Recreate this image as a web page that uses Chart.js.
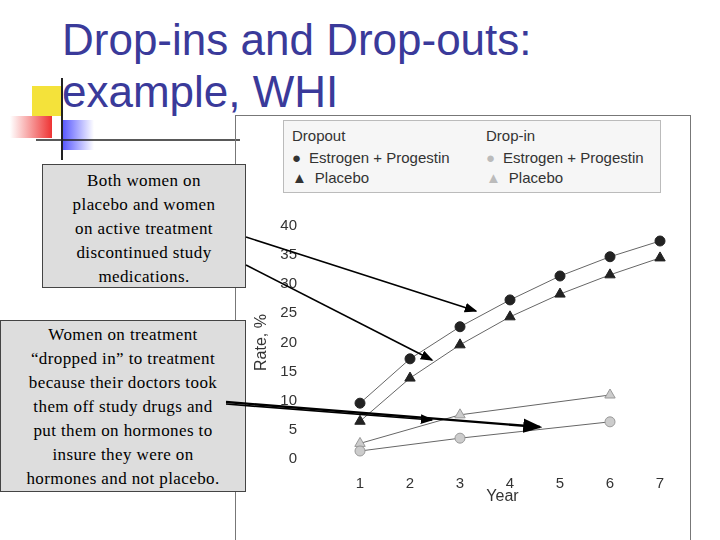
<!DOCTYPE html>
<html>
<head>
<meta charset="utf-8">
<script src="https://cdn.jsdelivr.net/npm/chart.js@4"></script>
<style>
body{margin:0;width:720px;height:540px;position:relative;background:#fff;overflow:hidden;font-family:"Liberation Sans",Arial,sans-serif}
.abs{position:absolute}
#title{left:62px;top:14px;font-size:44px;line-height:52px;color:#3a3a9a}
.box{background:#ddd;border:1px solid #444;font-family:"Liberation Serif","Times New Roman",serif;font-size:17px;line-height:24px;letter-spacing:0.4px;text-align:center;box-sizing:border-box;color:#000;white-space:nowrap}
#panel{left:235px;top:115px;width:456px;height:430px;border:1px solid #777;box-sizing:border-box}
#legend{left:283px;top:120px;width:378px;height:73px;border:1px solid #bbb;background:#f6f6f6;font-size:15px;color:#333;box-sizing:border-box}
#legend div{position:absolute}
.sym{display:inline-block;margin-right:8px}
</style>
</head>
<body>
<svg class="abs" style="left:0;top:0" width="720" height="540">
 <rect x="32" y="86" width="30" height="30" fill="#f4e23a"/>
 <defs><linearGradient id="rg" x1="0" x2="1"><stop offset="0" stop-color="#fff"/><stop offset="1" stop-color="#e33"/></linearGradient>
 <linearGradient id="bg" x1="0" x2="1"><stop offset="0" stop-color="#55f"/><stop offset="1" stop-color="#fff"/></linearGradient></defs>
 <rect x="10" y="116" width="42" height="22" fill="url(#rg)"/>
 <rect x="62" y="120" width="32" height="30" fill="url(#bg)"/>
 <line x1="62" y1="78" x2="62" y2="160" stroke="#222" stroke-width="2"/>
 <line x1="36" y1="140" x2="240" y2="140" stroke="#222" stroke-width="1.5"/>
</svg>
<div id="title" class="abs">Drop-ins and Drop-outs:<br>example, WHI</div>
<div id="panel" class="abs">
 <canvas id="c" width="454" height="428"></canvas>
</div>
<div id="legend" class="abs">
 <div style="left:8px;top:6px">Dropout</div>
 <div style="left:8px;top:28px"><span class="sym">●</span>Estrogen + Progestin</div>
 <div style="left:8px;top:48px"><span class="sym">▲</span>Placebo</div>
 <div style="left:202px;top:6px">Drop-in</div>
 <div style="left:202px;top:28px"><span class="sym" style="color:#bbb">●</span>Estrogen + Progestin</div>
 <div style="left:202px;top:48px"><span class="sym" style="color:#bbb">▲</span>Placebo</div>
</div>
<div class="abs box" style="left:42px;top:164px;width:204px;height:124px;padding-top:4px">Both women on<br>placebo and women<br>on active treatment<br>discontinued study<br>medications.</div>
<div class="abs box" style="left:0;top:320px;width:246px;height:172px;padding-top:2px">Women on treatment<br>“dropped in” to treatment<br>because their doctors took<br>them off study drugs and<br>put them on hormones to<br>insure they were on<br>hormones and not placebo.</div>
<svg class="abs" style="left:0;top:0;pointer-events:none" width="720" height="540">
 <defs><marker id="ah" markerWidth="8" markerHeight="8" refX="7" refY="4" orient="auto"><path d="M0,1 L8,4 L0,7 z" fill="#000"/></marker></defs>
 <g stroke="#000" stroke-width="1.6" fill="none">
  <line x1="246" y1="237" x2="476" y2="311" marker-end="url(#ah)"/>
  <line x1="246" y1="265" x2="432" y2="360" marker-end="url(#ah)"/>
  <line x1="226" y1="402" x2="540" y2="427" stroke-width="2.4" marker-end="url(#ah)"/>
  <line x1="226" y1="404" x2="432" y2="420" marker-end="url(#ah)"/>
 </g>
</svg>
<script>
const years = [1,2,3,4,5,6,7]
const dropEP = [9.6,17.2,22.7,27.3,31.4,34.7,37.4]
const dropPl = [6.5,13.9,19.6,24.4,28.3,31.6,34.5]
const inYears = [1,3,6]
const inEP = [1.4,3.6,6.4]
const inPl = [2.7,7.6,11]
const yTicks = [0,5,10,15,20,25,30,35,40]

const pts = (xs,ys)=>xs.map((x,i)=>({x:x,y:ys[i]}))
const ds = (data,shape,fill,stroke)=>({data:data,borderColor:"#666",borderWidth:1,pointStyle:shape,
  pointRadius:shape==="triangle"?6:5,pointBackgroundColor:fill,pointBorderColor:stroke,pointBorderWidth:1})

new Chart(document.getElementById("c"),{
  type:"line",
  data:{datasets:[
    ds(pts(years,dropEP),"circle","#222","#222"),
    ds(pts(years,dropPl),"triangle","#222","#222"),
    ds(pts(inYears,inEP),"circle","#ccc","#999"),
    ds(pts(inYears,inPl),"triangle","#ccc","#999")
  ]},
  options:{responsive:false,animation:false,
    layout:{padding:{top:104,right:20,left:0,bottom:34}},
    plugins:{legend:{display:false},tooltip:{enabled:false}},
    scales:{
      x:{type:"linear",min:0.5,max:7.2,
        afterBuildTicks:a=>{a.ticks=years.map(v=>({value:v}))},
        afterFit:a=>{a.height=45},
        grid:{display:false},border:{display:false},
        ticks:{color:"#333",padding:2,font:{size:15,family:"Liberation Sans"}},
        title:{display:true,text:"Year",color:"#333",padding:{top:2},font:{size:16,family:"Liberation Sans"}}},
      y:{min:-1,max:41,
        afterBuildTicks:a=>{a.ticks=yTicks.map(v=>({value:v}))},
        afterFit:a=>{a.width=99},
        grid:{display:false},border:{display:false},
        ticks:{color:"#333",padding:30,font:{size:15,family:"Liberation Sans"}},
        title:{display:true,text:"Rate, %",color:"#333",padding:{top:16},font:{size:16,family:"Liberation Sans"}}}
    }}
})
</script>
</body>
</html>
